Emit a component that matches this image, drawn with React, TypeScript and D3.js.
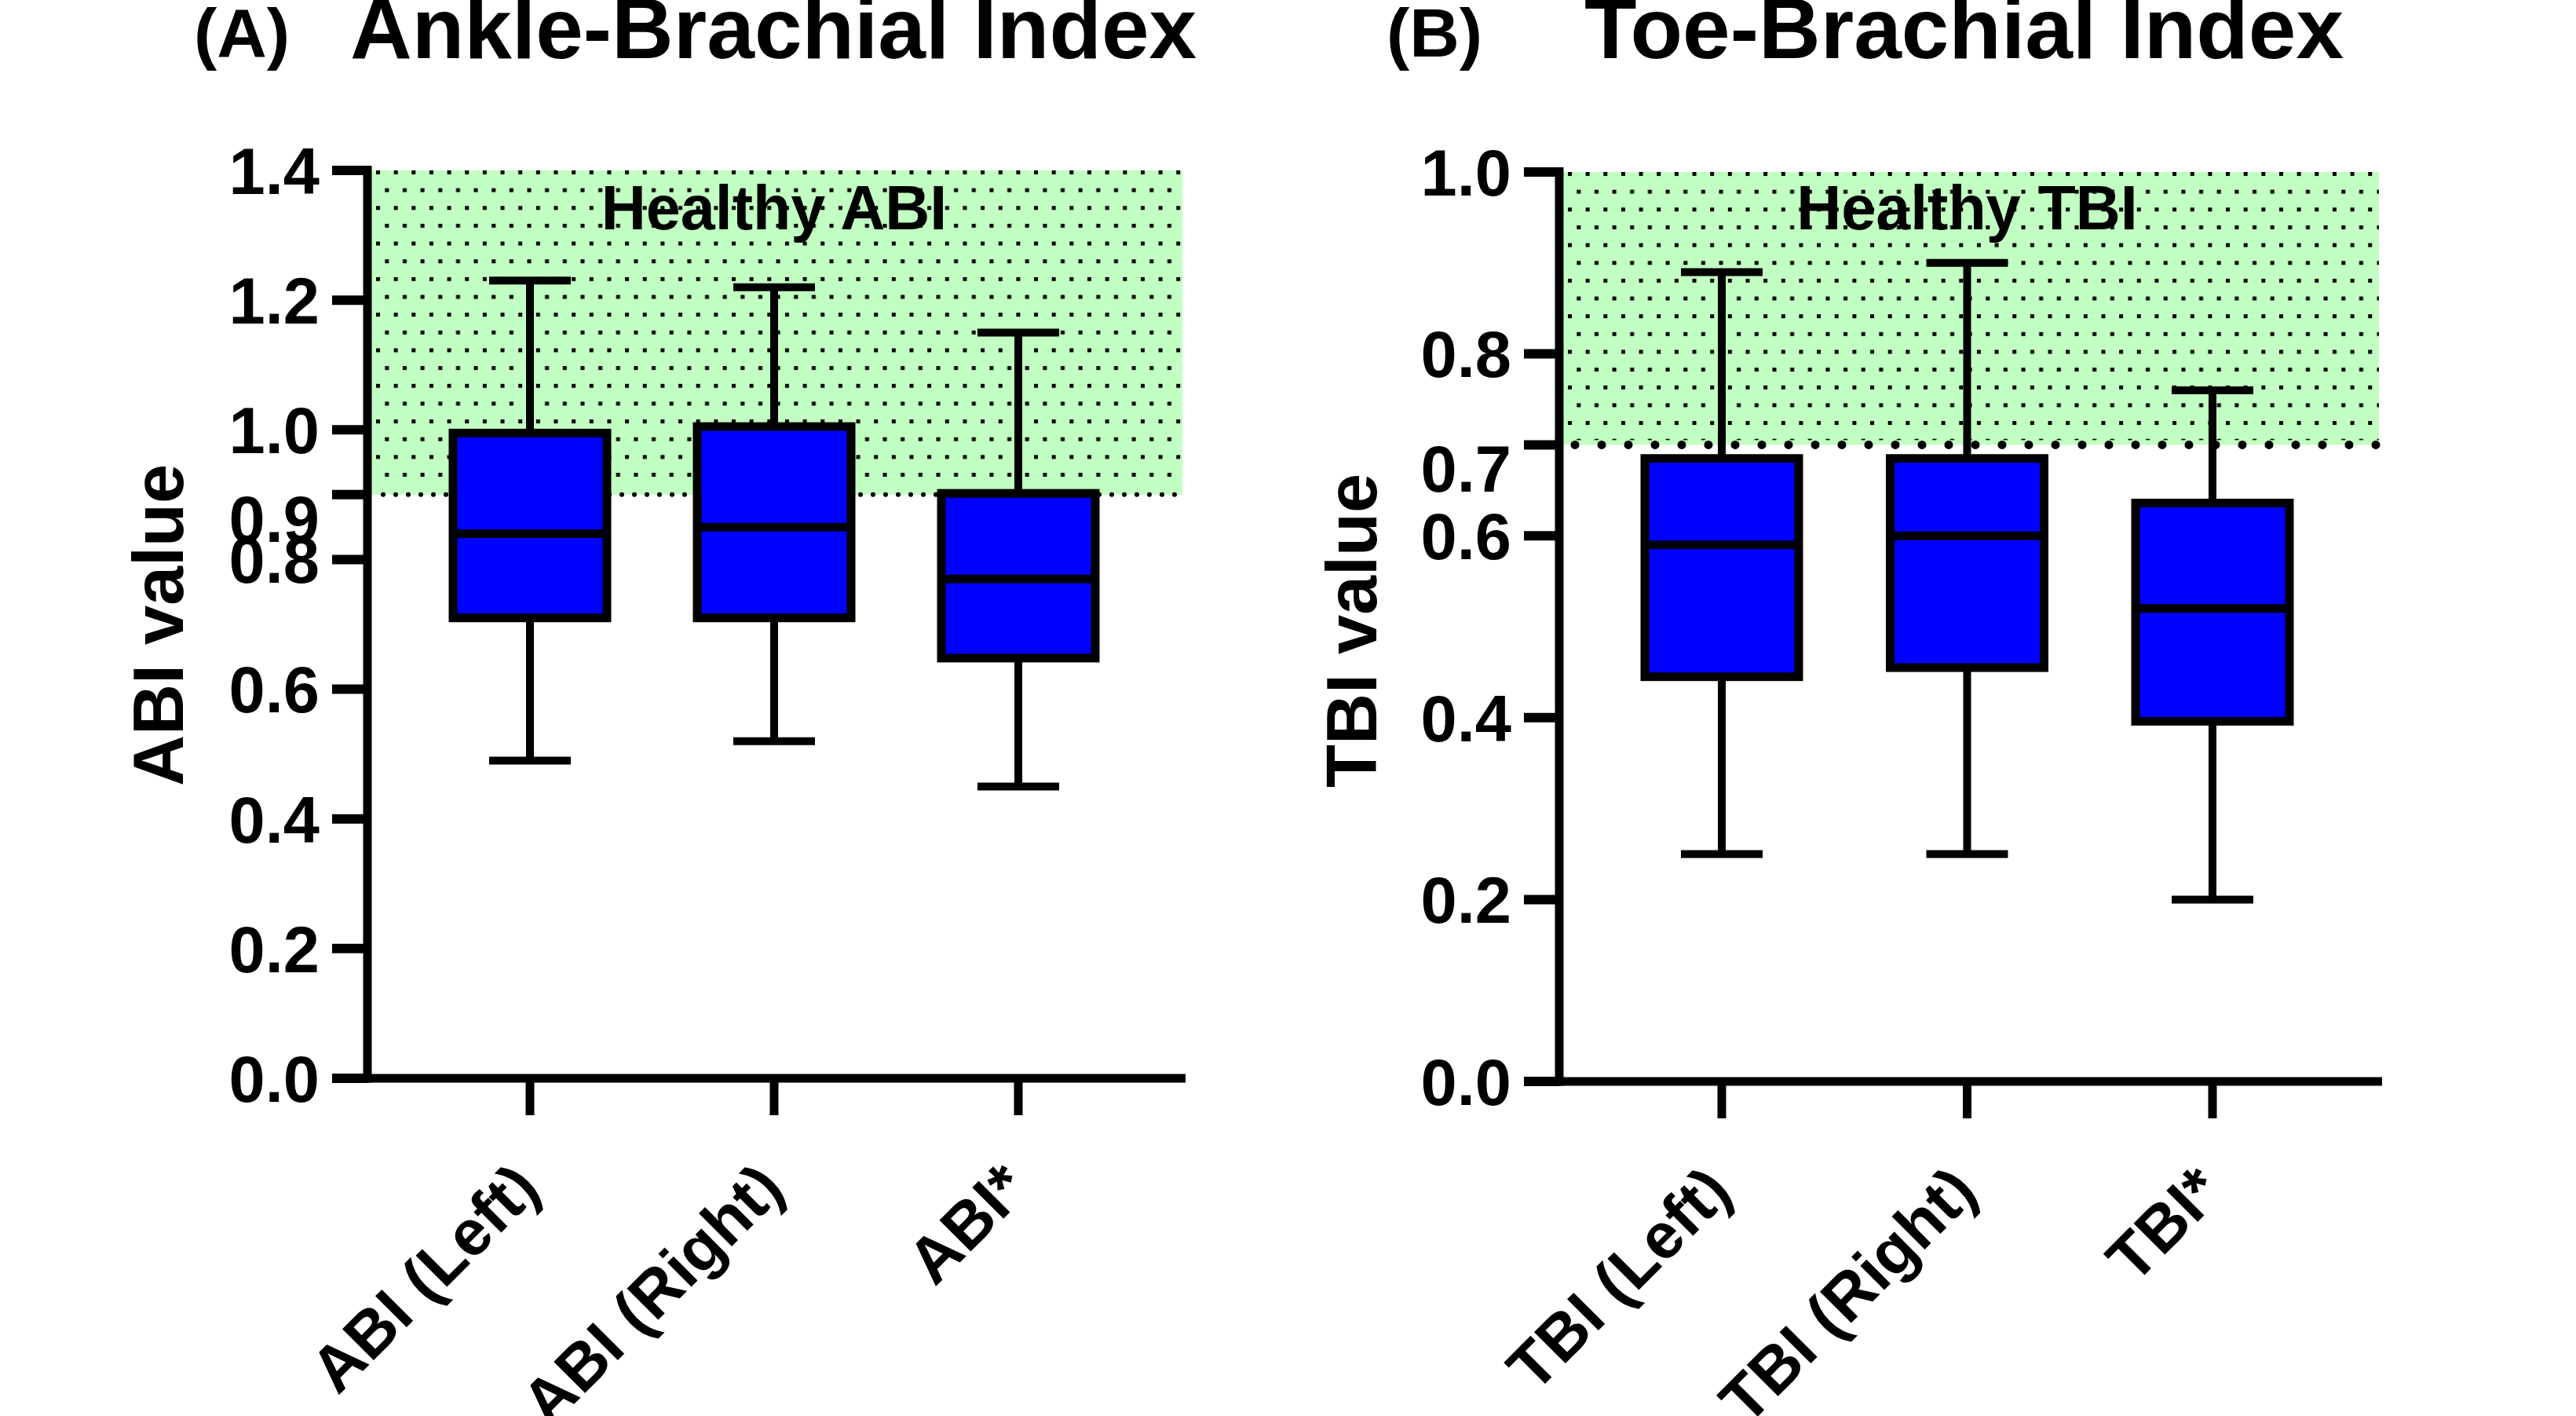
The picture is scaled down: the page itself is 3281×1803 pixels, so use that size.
import React from "react";
import * as d3 from "d3";

// ---------- data ----------
const abiCategories = ["ABI (Left)", "ABI (Right)", "ABI*"];
const abiMin = [0.49, 0.52, 0.45];
const abiQ1 = [0.71, 0.71, 0.648];
const abiMedian = [0.84, 0.85, 0.77];
const abiQ3 = [0.995, 1.005, 0.902];
const abiMax = [1.23, 1.22, 1.15];
const abiTicks = [0.0, 0.2, 0.4, 0.6, 0.8, 0.9, 1.0, 1.2, 1.4];
const abiShiftedTicks = [0.9];
const abiHealthy = [0.9, 1.4];

const tbiCategories = ["TBI (Left)", "TBI (Right)", "TBI*"];
const tbiMin = [0.25, 0.25, 0.2];
const tbiQ1 = [0.445, 0.455, 0.396];
const tbiMedian = [0.59, 0.6, 0.52];
const tbiQ3 = [0.685, 0.685, 0.636];
const tbiMax = [0.89, 0.9, 0.76];
const tbiTicks = [0.0, 0.2, 0.4, 0.6, 0.7, 0.8, 1.0];
const tbiShiftedTicks = [0.7];
const tbiHealthy = [0.7, 1.0];

const FONT = "'Liberation Sans', Arial, Helvetica, sans-serif";

type PanelProps = {
  id: string;
  letter: string;
  title: string;
  yLabel: string;
  healthyLabel: string;
  categories: string[];
  mins: number[];
  q1: number[];
  med: number[];
  q3: number[];
  maxs: number[];
  ticks: number[];
  shifted: number[];
  healthy: number[];
  yMax: number;
  axisX: number;
  axisEnd: number;
  y0: number;
  yTop: number;
  catX: [number, number];
  letterX: number;
  titleX: number;
  yLabelX: number;
  yLabelY: number;
  boundaryWidth: number;
  boundaryGap: number;
};

function Panel(p: PanelProps) {
  const y = d3.scaleLinear().domain([0, p.yMax]).range([p.y0, p.yTop]);
  const x = d3.scalePoint<string>().domain(p.categories).range(p.catX);
  const tickLen = 45;
  const boxHalf = 98;
  const capHalf = 52;
  const hTop = y(p.healthy[1]);
  const hBot = y(p.healthy[0]);
  const midX = x(p.categories[1]) as number;
  const dot = 5;

  return (
    <g>
      <defs>
        <pattern
          id={`dots-${p.id}`}
          patternUnits="userSpaceOnUse"
          x={p.axisX + 11}
          y={hTop}
          width={22.65}
          height={45.3}
        >
          <rect x={0} y={0} width={dot} height={dot} fill="#000" />
          <rect x={11.32} y={22.65} width={dot} height={dot} fill="#000" />
        </pattern>
      </defs>
      {/* healthy zone */}
      <rect
        x={p.axisX + 5}
        y={hTop}
        width={p.axisEnd - 4 - (p.axisX + 5)}
        height={hBot - hTop}
        fill="#c2ffc2"
      />
      <rect
        x={p.axisX + 5}
        y={hTop}
        width={p.axisEnd - 4 - (p.axisX + 5)}
        height={hBot - hTop - 6}
        fill={`url(#dots-${p.id})`}
      />
      <line
        x1={p.axisX + 20}
        x2={p.axisEnd - 6}
        y1={hBot}
        y2={hBot}
        stroke="#000"
        strokeWidth={p.boundaryWidth}
        strokeLinecap="round"
        strokeDasharray={`0 ${p.boundaryGap}`}
      />
      <text
        x={midX}
        y={292}
        textAnchor="middle"
        fontFamily={FONT}
        fontWeight="bold"
        fontSize={79}
        fill="#000"
      >
        {p.healthyLabel}
      </text>

      {/* boxes */}
      {p.categories.map((c, i) => {
        const cx = x(c) as number;
        return (
          <g key={c}>
            <line x1={cx} x2={cx} y1={y(p.q3[i])} y2={y(p.maxs[i])} stroke="#000" strokeWidth={10} />
            <line x1={cx} x2={cx} y1={y(p.q1[i])} y2={y(p.mins[i])} stroke="#000" strokeWidth={10} />
            <line x1={cx - capHalf} x2={cx + capHalf} y1={y(p.maxs[i])} y2={y(p.maxs[i])} stroke="#000" strokeWidth={10} />
            <line x1={cx - capHalf} x2={cx + capHalf} y1={y(p.mins[i])} y2={y(p.mins[i])} stroke="#000" strokeWidth={10} />
            <rect
              x={cx - boxHalf}
              y={y(p.q3[i])}
              width={boxHalf * 2}
              height={y(p.q1[i]) - y(p.q3[i])}
              fill="#0000ff"
              stroke="#000"
              strokeWidth={11}
            />
            <line x1={cx - boxHalf} x2={cx + boxHalf} y1={y(p.med[i])} y2={y(p.med[i])} stroke="#000" strokeWidth={11} />
          </g>
        );
      })}

      {/* y axis */}
      <line x1={p.axisX} x2={p.axisX} y1={y(p.yMax) - 6} y2={p.y0 + 5.5} stroke="#000" strokeWidth={11} />
      {p.ticks.map((t) => (
        <g key={t}>
          <line x1={p.axisX - tickLen} x2={p.axisX} y1={y(t)} y2={y(t)} stroke="#000" strokeWidth={12} />
          <text
            x={p.axisX - 61}
            y={y(t)}
            dy={p.shifted.includes(t) ? "0.72em" : "0.36em"}
            textAnchor="end"
            fontFamily={FONT}
            fontWeight="bold"
            fontSize={83}
            fill="#000"
          >
            {d3.format(".1f")(t)}
          </text>
        </g>
      ))}
      <text
        transform={`translate(${p.yLabelX},${p.yLabelY}) rotate(-90)`}
        textAnchor="middle"
        fontFamily={FONT}
        fontWeight="bold"
        fontSize={90}
        fill="#000"
      >
        {p.yLabel}
      </text>

      {/* x axis */}
      <line x1={p.axisX - tickLen} x2={p.axisEnd} y1={p.y0} y2={p.y0} stroke="#000" strokeWidth={11} />
      {p.categories.map((c) => {
        const cx = x(c) as number;
        return (
          <g key={c}>
            <line x1={cx} x2={cx} y1={p.y0} y2={p.y0 + 47} stroke="#000" strokeWidth={11} />
            <text
              transform={`translate(${cx + 16},${p.y0 + 144}) rotate(-45)`}
              textAnchor="end"
              fontFamily={FONT}
              fontWeight="bold"
              fontSize={82}
              fill="#000"
            >
              {c}
            </text>
          </g>
        );
      })}

      {/* titles */}
      <text x={p.letterX} y={72} fontFamily={FONT} fontWeight="bold" fontSize={88} fill="#000">
        {p.letter}
      </text>
      <text x={p.titleX} y={74} fontFamily={FONT} fontWeight="bold" fontSize={109} fill="#000">
        {p.title}
      </text>
    </g>
  );
}

export default function App() {
  return (
    <svg
      width={3281}
      height={1803}
      viewBox="0 0 3281 1803"
      style={{ position: "absolute", left: 0, top: 0, background: "#fff" }}
    >
      <rect x={0} y={0} width={3281} height={1803} fill="#fff" />
      <Panel
        id="a"
        letter="(A)"
        title="Ankle-Brachial Index"
        yLabel="ABI value"
        healthyLabel="Healthy ABI"
        categories={abiCategories}
        mins={abiMin}
        q1={abiQ1}
        med={abiMedian}
        q3={abiQ3}
        maxs={abiMax}
        ticks={abiTicks}
        shifted={abiShiftedTicks}
        healthy={abiHealthy}
        yMax={1.4}
        axisX={468}
        axisEnd={1510}
        y0={1373}
        yTop={217}
        catX={[675, 1297]}
        letterX={247}
        titleX={446}
        yLabelX={233}
        yLabelY={796}
        boundaryWidth={6}
        boundaryGap={16}
      />
      <Panel
        id="b"
        letter="(B)"
        title="Toe-Brachial Index"
        yLabel="TBI value"
        healthyLabel="Healthy TBI"
        categories={tbiCategories}
        mins={tbiMin}
        q1={tbiQ1}
        med={tbiMedian}
        q3={tbiQ3}
        maxs={tbiMax}
        ticks={tbiTicks}
        shifted={tbiShiftedTicks}
        healthy={tbiHealthy}
        yMax={1.0}
        axisX={1986}
        axisEnd={3034}
        y0={1377}
        yTop={219}
        catX={[2193, 2818]}
        letterX={1766}
        titleX={2018}
        yLabelX={1753}
        yLabelY={803}
        boundaryWidth={11}
        boundaryGap={34}
      />
    </svg>
  );
}
